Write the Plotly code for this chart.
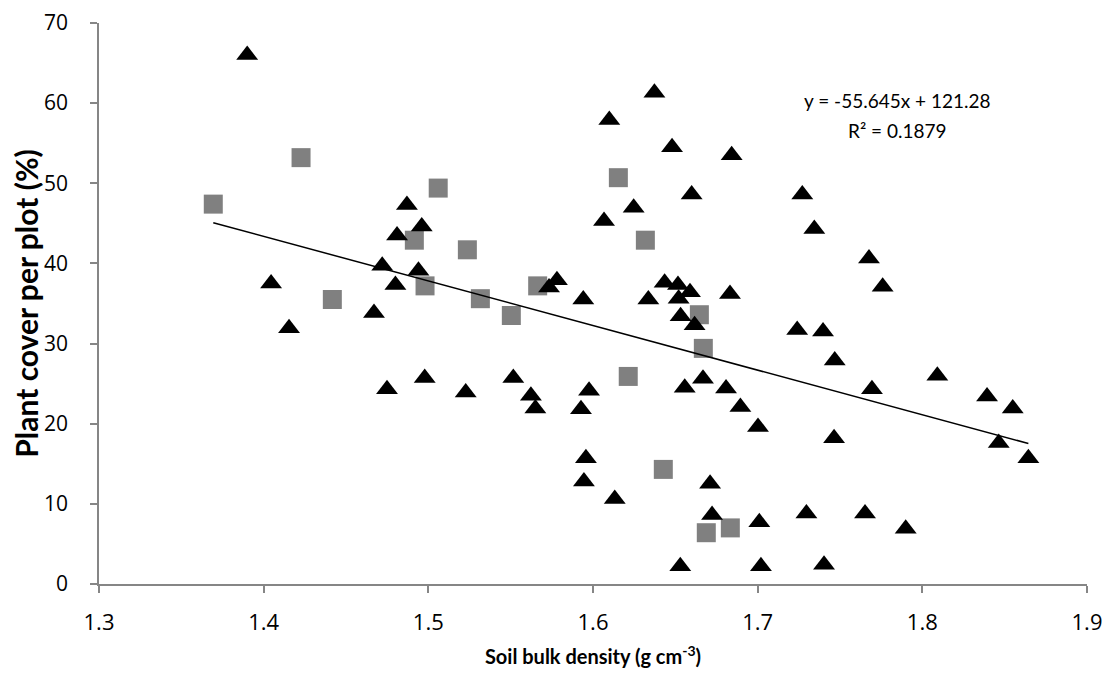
"""Plant cover vs soil bulk density scatter with linear trend."""

import numpy as np
import plotly.graph_objects as go

# triangles (black series)
tri_x = [1.390, 1.487, 1.496, 1.481, 1.472, 1.494, 1.4045, 1.480, 1.467, 1.4154,
         1.4749, 1.4978, 1.5227, 1.5516, 1.5623, 1.565, 1.5976, 1.5927, 1.5957, 1.5945,
         1.6132, 1.6373, 1.6099, 1.648, 1.6842, 1.6599, 1.6247, 1.6067, 1.5733, 1.5781,
         1.5941, 1.6336, 1.6435, 1.6516, 1.6589, 1.652, 1.6832, 1.6532, 1.6617, 1.6557,
         1.6668, 1.6808, 1.6895, 1.7002, 1.6711, 1.6723, 1.701, 1.653, 1.702, 1.7271,
         1.7344, 1.7676, 1.7759, 1.724, 1.7397, 1.7468, 1.8091, 1.7694, 1.8393, 1.8549,
         1.7464, 1.8464, 1.8644, 1.7296, 1.7652, 1.7899, 1.7403]
tri_y = [66.0, 47.3, 44.6, 43.5, 39.7, 39.1, 37.5, 37.3, 33.8, 31.9,
         24.3, 25.7, 23.9, 25.7, 23.5, 21.9, 24.1, 21.8, 15.7, 12.8,
         10.6, 61.3, 57.9, 54.5, 53.5, 48.6, 46.95, 45.3, 37.0, 37.9,
         35.5, 35.5, 37.6, 37.3, 36.4, 35.6, 36.2, 33.4, 32.3, 24.5,
         25.6, 24.4, 22.1, 19.6, 12.5, 8.6, 7.7, 2.2, 2.2, 48.6,
         44.3, 40.6, 37.1, 31.7, 31.5, 27.9, 26.0, 24.3, 23.4, 21.9,
         18.2, 17.6, 15.7, 8.8, 8.8, 6.9, 2.4]

# squares (grey series)
sq_x = [1.3694, 1.4227, 1.506, 1.4915, 1.5237, 1.498, 1.4417, 1.5316, 1.5504,
        1.5664, 1.6154, 1.6318, 1.6646, 1.667, 1.6214, 1.6427, 1.6688, 1.6834]
sq_y = [47.4, 53.2, 49.4, 42.9, 41.7, 37.2, 35.5, 35.6, 33.5,
        37.2, 50.7, 42.9, 33.6, 29.4, 25.9, 14.3, 6.4, 7.0]

# trendline as reported on the chart
slope = -55.645
intercept = 121.28
r2 = 0.1879

FONT = "Lato, Open Sans, sans-serif"
TICK_FONT = "Open Sans, Lato, sans-serif"
AXIS_GREY = "#868686"

all_x = np.array(tri_x + sq_x)
line_x = np.array([all_x.min(), all_x.max()])
line_y = slope * line_x + intercept

fig = go.Figure()
fig.add_trace(
    go.Scatter(
        x=sq_x, y=sq_y, mode="markers",
        marker=dict(symbol="square", size=19, color="#808080"),
        showlegend=False,
    )
)
fig.add_trace(
    go.Scatter(
        x=tri_x, y=tri_y, mode="markers",
        marker=dict(symbol="triangle-up", size=19, color="#000000"),
        showlegend=False,
    )
)
fig.add_trace(
    go.Scatter(
        x=line_x, y=line_y, mode="lines",
        line=dict(color="#000000", width=1.5),
        showlegend=False,
    )
)

fig.add_annotation(
    x=1.785, y=60.3, xref="x", yref="y", showarrow=False,
    text=f"y = {slope}x + {intercept}",
    font=dict(family=FONT, size=19, color="#000000"), xanchor="center",
)
fig.add_annotation(
    x=1.785, y=56.6, xref="x", yref="y", showarrow=False,
    text=f"R² = {r2}",
    font=dict(family=FONT, size=19, color="#000000"), xanchor="center",
)

# page body keeps its default 8px margin, so the figure is sized to fit inside it
fig.update_layout(
    width=1099,
    height=660,
    plot_bgcolor="white",
    paper_bgcolor="white",
    margin=dict(l=91, r=20, t=15, b=84),
    font=dict(family=FONT, size=19, color="#000000"),
    xaxis=dict(
        range=[1.3, 1.9], dtick=0.1, tick0=1.3, tickformat=".1f",
        showgrid=False, zeroline=False, automargin=False,
        showline=True, linecolor=AXIS_GREY, linewidth=1.5,
        ticks="outside", ticklen=7, tickcolor=AXIS_GREY, tickwidth=1.5,
        tickfont=dict(family=TICK_FONT, size=22),
        ticklabelstandoff=11,
        title=dict(text="<b>Soil bulk density (g cm<sup>-3</sup>)</b>",
                   font=dict(family=FONT, size=20), standoff=16),
    ),
    yaxis=dict(
        range=[0, 70], dtick=10,
        showgrid=False, zeroline=False, automargin=False,
        showline=True, linecolor=AXIS_GREY, linewidth=1.5,
        ticks="outside", ticklen=7, tickcolor=AXIS_GREY, tickwidth=1.5,
        tickfont=dict(family=TICK_FONT, size=21),
        ticklabelstandoff=18, ticklabeloverflow="allow",
        title=dict(text="<b>Plant cover per plot (%)</b>",
                   font=dict(family=FONT, size=30), standoff=5),
    ),
)

fig.write_html("out.html")
